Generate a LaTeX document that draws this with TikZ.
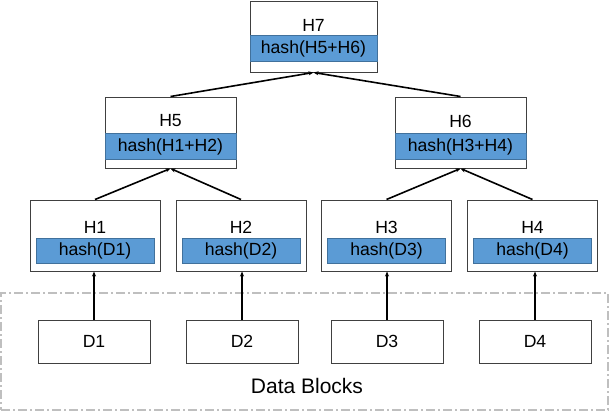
\documentclass[tikz,border=0pt]{standalone}
\usepackage{fontspec}
\setmainfont{Liberation Sans}
\usetikzlibrary{arrows.meta,positioning}
\definecolor{bandblue}{HTML}{5B9BD5}
\definecolor{bandedge}{HTML}{41719C}
\definecolor{boxedge}{HTML}{404040}
\definecolor{dashgray}{HTML}{BFBFBF}
\tikzset{
  hashbox/.style={draw=boxedge,line width=1pt,fill=white,minimum width=130pt,minimum height=71pt,inner sep=0pt},
  band/.style={draw=bandedge,line width=0.5pt,fill=bandblue,minimum height=26pt,inner sep=0pt,font=\fontsize{17.6}{20}\selectfont},
  title/.style={inner sep=0pt,font=\fontsize{17.6}{20}\selectfont},
  datablock/.style={draw=boxedge,line width=1pt,fill=white,minimum width=112pt,minimum height=43pt,inner sep=0pt,font=\fontsize{17.6}{20}\selectfont},
  link/.style={-{Stealth[length=5pt,width=4pt]},line width=1.6pt,black}
}
\begin{document}
\begin{tikzpicture}[x=1pt,y=-1pt]
  \useasboundingbox (0,0) rectangle (609,413);
  % data blocks area
  \node[draw=dashgray,line width=1.2pt,dash pattern=on 9pt off 3pt on 2pt off 3pt,
        minimum width=607pt,minimum height=117pt,inner sep=0pt,name=area] at (304.5,351.5) {};
  \node[inner sep=0pt,font=\fontsize{21}{24}\selectfont,name=areatext] at (307,386) {Data Blocks};

  % top
  \node[hashbox,minimum width=127pt,name=h7] at (313.5,36.5) {};
  \node[band,minimum width=127pt,name=b7] at ([yshift=-12pt]h7.center) {hash(H5+H6)};
  \node[title,name=t7] at ([yshift=11.5pt]h7.center) {H7};

  % middle
  \node[hashbox,minimum width=131pt,name=h5] at (170.5,132.5) {};
  \node[band,minimum width=131pt,name=b5] at ([yshift=-14pt]h5.center) {hash(H1+H2)};
  \node[title,name=t5] at ([yshift=11.5pt]h5.center) {H5};
  \node[hashbox,minimum width=131pt,name=h6] at (460.5,132.5) {};
  \node[band,minimum width=131pt,name=b6] at ([yshift=-14pt]h6.center) {hash(H3+H4)};
  \node[title,name=t6] at ([yshift=11.5pt]h6.center) {H6};

  % leaves
  \node[hashbox,name=h1] at (95,235.5) {};
  \node[band,minimum width=118pt,minimum height=25pt,name=b1] at ([yshift=-15pt]h1.center) {hash(D1)};
  \node[title,name=t1] at ([yshift=8pt]h1.center) {H1};
  \node[hashbox,name=h2] at (241,235.5) {};
  \node[band,minimum width=118pt,minimum height=25pt,name=b2] at ([yshift=-15pt]h2.center) {hash(D2)};
  \node[title,name=t2] at ([yshift=8pt]h2.center) {H2};
  \node[hashbox,name=h3] at (386.5,235.5) {};
  \node[band,minimum width=118pt,minimum height=25pt,name=b3] at ([yshift=-15pt]h3.center) {hash(D3)};
  \node[title,name=t3] at ([yshift=8pt]h3.center) {H3};
  \node[hashbox,name=h4] at (532.5,235.5) {};
  \node[band,minimum width=118pt,minimum height=25pt,name=b4] at ([yshift=-15pt]h4.center) {hash(D4)};
  \node[title,name=t4] at ([yshift=8pt]h4.center) {H4};

  % data
  \node[datablock,name=d1] at (94,341.5) {D1};
  \node[datablock,name=d2] at (242,341.5) {D2};
  \node[datablock,name=d3] at (387,341.5) {D3};
  \node[datablock,name=d4] at (535,341.5) {D4};

  \path[link]
    (d1.north) edge (d1.north |- h1.south)
    (d2.north) edge (d2.north |- h2.south)
    (d3.north) edge (d3.north |- h3.south)
    (d4.north) edge (d4.north |- h4.south)
    (h1.north) edge (h5.south)
    (h2.north) edge (h5.south)
    (h3.north) edge (h6.south)
    (h4.north) edge (h6.south)
    (h5.north) edge (h7.south)
    (h6.north) edge (h7.south);
\end{tikzpicture}
\end{document}
